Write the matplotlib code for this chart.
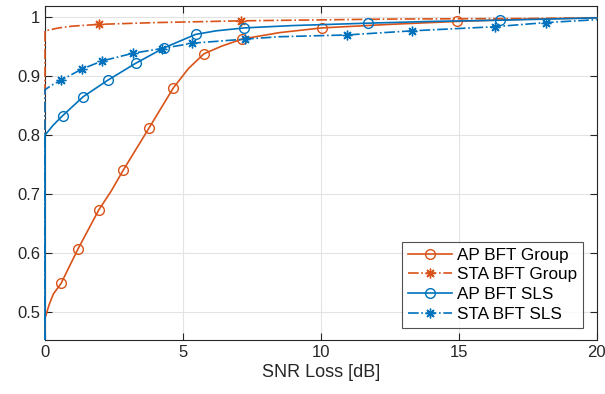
import matplotlib
matplotlib.use("Agg")
import matplotlib.pyplot as plt
from matplotlib.transforms import Bbox, TransformedBbox
import numpy as np

plt.rcParams['font.family'] = ['Liberation Sans', 'DejaVu Sans']

# ---- data (CDF curves: line points and marker points) ----
ap_group_line_x = [0, 0, 0.15, 0.3, 2.4, 5.2, 6.4, 8.5, 12.5, 17.5, 20]
ap_group_line_y = [0, 0.489, 0.512, 0.53, 0.705, 0.913, 0.951, 0.974, 0.988, 0.997, 0.999]
ap_group_mk_x = [0.58, 1.2, 1.95, 2.83, 3.77, 4.65, 5.76, 7.14, 10.04, 14.94]
ap_group_mk_y = [0.548, 0.607, 0.673, 0.74, 0.812, 0.88, 0.938, 0.963, 0.982, 0.993]

sta_group_line_x = [0, 0, 0.5, 1.0, 4.0, 12.5, 17.5, 20]
sta_group_line_y = [0, 0.977, 0.982, 0.985, 0.991, 0.997, 0.998, 0.999]
sta_group_mk_x = [1.95, 7.1]
sta_group_mk_y = [0.988, 0.994]

ap_sls_line_x = [0, 0, 0.3, 6.2, 9.0, 14.0, 20]
ap_sls_line_y = [0, 0.80, 0.817, 0.977, 0.986, 0.993, 0.999]
ap_sls_mk_x = [0.64, 1.38, 2.27, 3.29, 4.31, 5.46, 7.23, 11.69, 16.48]
ap_sls_mk_y = [0.833, 0.865, 0.893, 0.922, 0.948, 0.971, 0.982, 0.990, 0.995]

sta_sls_line_x = [0, 0, 0.25, 8.5, 20]
sta_sls_line_y = [0, 0.877, 0.885, 0.967, 0.996]
sta_sls_mk_x = [0.58, 1.33, 2.08, 3.19, 4.24, 5.34, 7.26, 10.93, 13.3, 16.3, 18.15]
sta_sls_mk_y = [0.893, 0.912, 0.926, 0.939, 0.947, 0.956, 0.963, 0.970, 0.977, 0.984, 0.991]

labels = ["AP BFT Group", "STA BFT Group", "AP BFT SLS", "STA BFT SLS"]
xticks = [0, 5, 10, 15, 20]
yticks = [0.5, 0.6, 0.7, 0.8, 0.9, 1.0]
ytick_labels = ["0.5", "0.6", "0.7", "0.8", "0.9", "1"]

orange = "#D95319"
blue = "#0072BD"


def merge(lx, ly, mx, my):
    pts = [(x, y, False) for x, y in zip(lx, ly)] + [(x, y, True) for x, y in zip(mx, my)]
    pts_sorted = sorted(pts, key=lambda p: (p[0], p[1]))
    xs = [p[0] for p in pts_sorted]
    ys = [p[1] for p in pts_sorted]
    idx = [i for i, p in enumerate(pts_sorted) if p[2]]
    return xs, ys, idx


fig = plt.figure(figsize=(6.05, 3.94), dpi=100)
ax = fig.add_axes([0.0744, 0.137, 0.912, 0.849])

clipbox = TransformedBbox(Bbox([[-0.006, 0.0], [1.006, 1.0]]), ax.transAxes)

ast = (8, 2, 0)
series = [
    (ap_group_line_x, ap_group_line_y, ap_group_mk_x, ap_group_mk_y, orange, '-', 'o'),
    (sta_group_line_x, sta_group_line_y, sta_group_mk_x, sta_group_mk_y, orange, '-.', ast),
    (ap_sls_line_x, ap_sls_line_y, ap_sls_mk_x, ap_sls_mk_y, blue, '-', 'o'),
    (sta_sls_line_x, sta_sls_line_y, sta_sls_mk_x, sta_sls_mk_y, blue, '-.', ast),
]
for (lx, ly, mx, my, c, ls, m), lab in zip(series, labels):
    xs, ys, idx = merge(lx, ly, mx, my)
    ln, = ax.plot(xs, ys, color=c, linestyle=ls, linewidth=1.2, marker=m,
                  markersize=7, markerfacecolor='none',
                  markeredgecolor=c, markeredgewidth=1.0, markevery=idx, label=lab,
                  zorder=3)
    ln.set_clip_box(clipbox)

ax.set_xlim(0, 20)
ax.set_ylim(0.452, 1.02)
ax.set_xticks(xticks)
ax.set_yticks(yticks)
ax.set_yticklabels(ytick_labels)
ax.grid(True, color='#e3e3e3', linewidth=0.8)
ax.set_axisbelow(True)
ax.tick_params(direction='in', top=True, right=True, labelsize=12,
               colors='#262626', length=5, width=0.8)
for s in ax.spines.values():
    s.set_color('#262626')
    s.set_linewidth(0.8)
ax.set_xlabel("SNR Loss [dB]", fontsize=13, color='#262626', labelpad=3)

leg = ax.legend(loc='lower right', bbox_to_anchor=(0.985, 0.022), fontsize=12.3,
                frameon=True, fancybox=False, edgecolor='#262626',
                handlelength=2.6, handletextpad=0.3, borderpad=0.35,
                labelspacing=0.27, borderaxespad=0.3)
leg.get_frame().set_linewidth(0.8)
leg.set_zorder(5)

fig.savefig("out.png", dpi=100)
